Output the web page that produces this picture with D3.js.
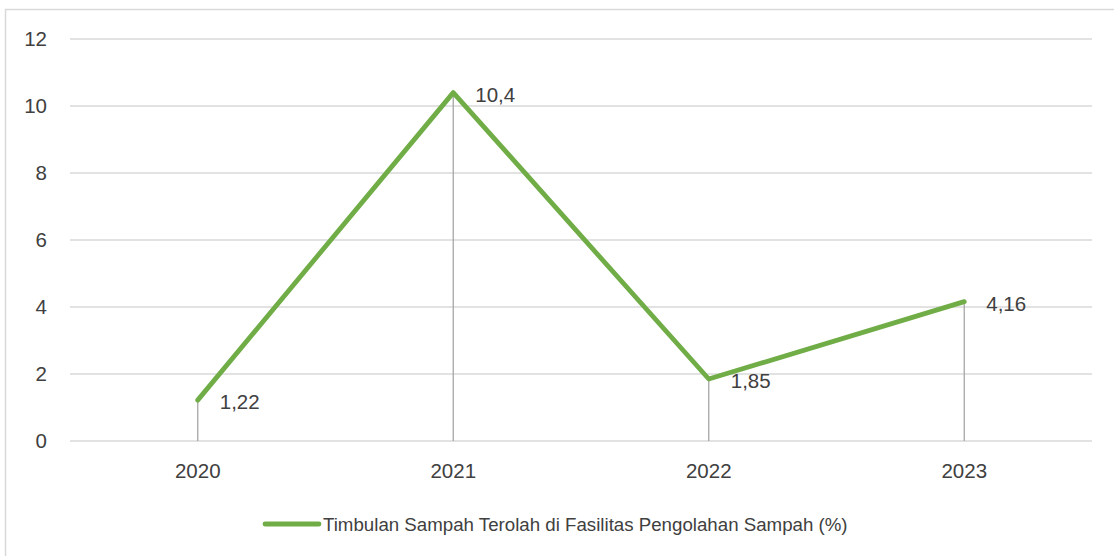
<!DOCTYPE html>
<html>
<head>
<meta charset="utf-8">
<script src="https://cdn.jsdelivr.net/npm/d3@7"></script>
<style>
  body { margin: 0; background: #fff; }
  text { font-family: "Liberation Sans", Arial, sans-serif; fill: #404040; }
</style>
</head>
<body>
<svg width="1114" height="556"></svg>
<script>
// chart data
const years = ["2020", "2021", "2022", "2023"];
const values = [1.22, 10.4, 1.85, 4.16];
const valueLabels = ["1,22", "10,4", "1,85", "4,16"];
const yTicks = [0, 2, 4, 6, 8, 10, 12];
const seriesName = "Timbulan Sampah Terolah di Fasilitas Pengolahan Sampah (%)";

var svg = d3.select("svg"),
    plotLeft = 70,
    plotRight = 1092,
    plotTop = 39,
    plotBottom = 441,
    green = "#70ad47";

// chart border (only top/left visible in the picture)
svg.append("rect")
    .attr("x", 5.5)
    .attr("y", 9.5)
    .attr("width", 1200)
    .attr("height", 600)
    .attr("fill", "none")
    .attr("stroke", "#d9d9d9")
    .attr("stroke-width", 1.5);

var x = d3.scaleBand().domain(years).range([plotLeft, plotRight]);
var y = d3.scaleLinear().domain([0, 12]).range([plotBottom, plotTop]);

// gridlines
svg.append("g")
    .selectAll("line")
    .data(yTicks)
    .enter().append("line")
    .attr("x1", plotLeft)
    .attr("x2", plotRight)
    .attr("y1", d => y(d))
    .attr("y2", d => y(d))
    .attr("stroke", "#d9d9d9")
    .attr("stroke-width", 1.3);

// y tick labels
svg.append("g")
    .selectAll("text")
    .data(yTicks)
    .enter().append("text")
    .attr("x", 47)
    .attr("y", d => y(d))
    .attr("dy", "0.35em")
    .attr("text-anchor", "end")
    .style("font-size", "20.5px")
    .text(d => d);

// x tick labels
svg.append("g")
    .selectAll("text")
    .data(years)
    .enter().append("text")
    .attr("x", d => x(d) + x.bandwidth() / 2)
    .attr("y", 471)
    .attr("dy", "0.35em")
    .attr("text-anchor", "middle")
    .style("font-size", "20.5px")
    .text(d => d);

var pts = years.map((d, i) => ({ year: d, value: values[i], label: valueLabels[i] }));
var cx = d => x(d.year) + x.bandwidth() / 2;

// drop lines
svg.append("g")
    .selectAll("line")
    .data(pts)
    .enter().append("line")
    .attr("x1", cx)
    .attr("x2", cx)
    .attr("y1", d => y(d.value))
    .attr("y2", y(0))
    .attr("stroke", "#a6a6a6")
    .attr("stroke-width", 1.3);

// series line
var line = d3.line()
    .x(cx)
    .y(d => y(d.value));

svg.append("path")
    .datum(pts)
    .attr("d", line)
    .attr("fill", "none")
    .attr("stroke", green)
    .attr("stroke-width", 4.8)
    .attr("stroke-linejoin", "round")
    .attr("stroke-linecap", "round");

// data labels
svg.append("g")
    .selectAll("text")
    .data(pts)
    .enter().append("text")
    .attr("x", d => cx(d) + 22)
    .attr("y", d => y(d.value) + 2)
    .attr("dy", "0.35em")
    .style("font-size", "20.5px")
    .text(d => d.label);

// legend
var legend = svg.append("g").attr("transform", "translate(263,524)");
legend.append("line")
    .attr("x1", 2)
    .attr("x2", 56)
    .attr("stroke", green)
    .attr("stroke-width", 4.8)
    .attr("stroke-linecap", "round");
legend.append("text")
    .attr("x", 60)
    .attr("dy", "0.35em")
    .style("font-size", "18.7px")
    .text(seriesName);
</script>
</body>
</html>
